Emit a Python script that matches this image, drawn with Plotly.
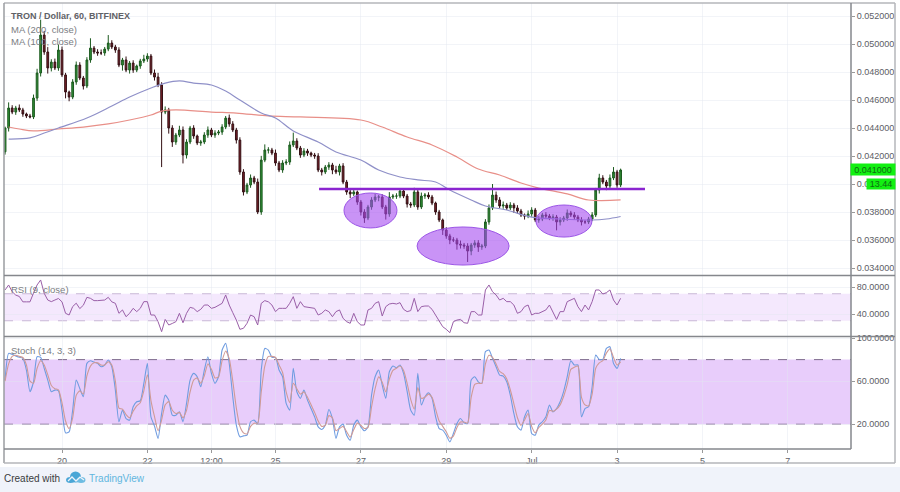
import pandas as pd
import plotly.graph_objects as go

title_text = "TRON / Dollar, 60, BITFINEX"
ma200_label = "MA (200, close)"
ma100_label = "MA (100, close)"
rsi_label = "RSI (9, close)"
stoch_label = "Stoch (14, 3, 3)"

first_open = 0.04230
closes = [
 .04400,.04543,.04514,.04543,.04529,.04500,.04486,.04479,.04614,.04793,
 .05064,.04943,.04829,.04871,.04829,.04957,.04779,.04657,.04621,.04729,
 .04850,.04757,.04700,.04886,.04971,.04943,.04936,.04936,.04964,.05007,
 .04979,.04957,.04850,.04886,.04814,.04864,.04814,.04843,.04879,.04893,
 .04914,.04793,.04764,.04707,.04514,.04529,.04400,.04300,.04350,.04386,
 .04207,.04300,.04400,.04343,.04293,.04300,.04350,.04386,.04350,.04364,
 .04371,.04407,.04471,.04429,.04386,.04314,.04086,.03943,.03993,.04043,
 .04014,.03800,.04171,.04243,.04243,.04221,.04150,.04100,.04150,.04157,
 .04279,.04307,.04257,.04207,.04236,.04221,.04207,.04200,.04100,.04086,
 .04121,.04136,.04100,.04086,.04129,.04014,.03943,.03929,.03943,.03871,
 .03800,.03757,.03836,.03886,.03907,.03907,.03836,.03786,.03907,.03914,
 .03914,.03950,.03914,.03857,.03850,.03943,.03836,.03914,.03921,.03907,
 .03864,.03800,.03743,.03671,.03629,.03600,.03600,.03571,.03564,.03557,
 .03521,.03564,.03579,.03550,.03557,.03729,.03829,.03921,.03886,.03843,
 .03850,.03829,.03850,.03829,.03807,.03779,.03771,.03786,.03814,.03743,
 .03750,.03779,.03771,.03757,.03764,.03729,.03743,.03757,.03793,.03779,
 .03764,.03743,.03729,.03729,.03750,.03779,.03957,.04043,.04014,.03986,
 .04043,.04086,.03993,.04100,
]
up_wick = [
 10,40,20,15,25,15,10,15,25,30,
 110,30,35,20,25,40,25,15,10,20,
 25,20,15,20,70,15,20,25,15,57,
 20,15,20,15,25,15,20,10,15,30,
 20,15,25,30,20,25,15,20,15,30,
 25,20,15,20,10,15,20,25,15,20,
 15,20,15,25,20,15,20,20,15,25,
 15,25,30,40,20,15,25,15,20,20,
 25,60,20,15,20,15,10,15,20,15,
 15,20,15,30,15,20,15,25,20,10,
 15,20,15,20,25,15,20,15,35,15,
 20,15,20,15,15,30,15,25,15,20,
 15,10,15,10,20,15,20,15,25,15,
 20,15,20,20,15,20,25,79,25,20,
 25,15,20,15,20,15,10,25,20,15,
 20,15,20,15,20,15,20,15,25,15,
 20,15,20,15,15,20,15,30,20,15,
 25,35,15,10,
]
down_wick = [
 20,25,15,20,15,20,15,10,15,20,
 25,20,40,25,15,20,15,45,30,15,
 20,15,25,15,20,15,20,15,20,15,
 15,20,15,40,15,25,20,15,20,15,
 20,15,25,15,393,15,40,35,20,15,
 60,25,15,20,15,20,15,20,15,20,
 15,20,15,20,15,25,20,25,15,20,
 15,15,20,15,25,15,20,15,20,15,
 20,15,15,20,15,20,15,20,15,25,
 15,20,30,15,25,15,20,30,15,20,
 25,35,15,20,15,30,15,40,20,15,
 20,15,15,25,20,15,20,15,20,15,
 15,20,15,35,20,30,15,40,25,20,
 78,30,20,35,20,15,20,15,20,15,
 20,15,15,35,20,15,25,15,20,15,
 20,15,20,15,20,60,25,15,20,15,
 20,15,25,15,15,15,15,25,15,30,
 15,15,20,15,
]
ma100_bar = [1,7,11,15,23,30,35,41,45,49,53,58,62,66,72,76,81,88,93,100,105,111,116,121,125,131,135,141,148,156,165,169,173]
ma100_val = [.04321,.04329,.04364,.04400,.04471,.04557,.04621,.04686,.04721,.04736,.04721,.04707,.04664,.04600,.04507,.04471,.04379,.04300,.04229,.04171,.04100,.04050,.04029,.04014,.03957,.03886,.03843,.03814,.03764,.03750,.03743,.03750,.03768]
ma200_bar = [1,4,8,15,22,29,35,41,44,48,58,65,74,83,100,106,113,120,127,133,139,145,150,158,164,173]
ma200_val = [.04407,.04393,.04379,.04393,.04407,.04429,.04457,.04493,.04521,.04529,.04514,.04507,.04486,.04479,.04457,.04407,.04336,.04279,.04193,.04107,.04064,.04007,.03971,.03929,.03886,.03886]
rsi = [
 75.6,83,73,68,66,58,58,58,71,83,
 90.4,70.6,60.7,58.3,60.7,63,58,41,38.5,51,
 56,48,53,64.7,63.2,59.8,59.8,60.7,60.7,64.7,
 58,55.8,41,46,36,41,48.4,43.5,48.4,58.3,
 58.3,38.5,38.5,28.6,13.8,32,23.7,26,28.6,41,
 27,41,49.9,48.4,43.5,46.9,53.3,53.3,48.4,49.9,
 53.3,55.8,68.2,53.3,42,31,17.3,18.8,26.2,38.5,
 36,23.7,55.8,59.8,58,53.3,43.5,48.4,48.4,48.4,
 55.8,65.7,48.4,58.3,50.9,49.9,48.4,48.4,38.5,41,
 46,43.5,36,43.5,46,33.6,28.6,26.2,41,28.6,
 23.7,23.7,46,48.4,55.8,58.3,37,50.9,54.8,55.8,
 54.8,56.8,46.9,43.5,45,63.2,43.5,50.9,51.8,51.8,
 46.9,38.5,28.6,21.2,17.3,12.3,28.6,31,32,27.1,
 26.2,43.5,43.5,38.5,38.5,75.6,83,73,68.2,60.7,
 63.2,58.3,58.3,53.3,41,43.5,50.9,53.3,38.5,41,
 41,43.5,46,53.3,43.5,32,43.5,43.5,58.3,60.7,
 63.2,50.9,43.5,53.3,46,58.3,75.6,75.6,69.6,71.6,
 75.6,60.7,53.3,63.2,
]
stoch_k = [
 61,85.8,84.9,83.3,82.1,81.2,70.3,50.2,59.4,82.7,
 82.1,71.9,61,50.2,51.7,51.1,33.1,12,12.9,33.1,
 61,53.2,45.5,76.5,79,77.7,76.5,73.4,75,79.6,
 73.4,51.7,22.3,33.1,25.3,23.8,36.2,40.9,41.8,57.9,
 76.5,26.9,18.2,6.8,30,47,42.4,28.4,28.4,31.5,
 22.3,39.3,61,67.2,64.1,54.8,70.3,82.7,67.2,57.9,
 64.1,88.9,95.1,76.5,45.5,19.2,8.3,9.2,9.9,22.3,
 23.8,20.7,70.3,90.4,88.9,82.1,82.1,70.3,64.1,39.3,
 33.1,71.9,50.2,44,51.7,42.4,34.6,26.9,17.6,15.1,
 19.2,33.7,25.3,6.8,17.6,20.1,9.8,5.2,19.2,23.8,
 17.6,13.9,17.6,47,64.1,70.3,56.3,44,68.7,74,
 72.5,75,67.2,50.6,33.1,28.4,67.2,37.8,45.5,49.2,
 44,26.9,16,14.5,9.8,3.6,11.4,20.7,25.3,21.3,
 20.7,61,64.1,59.4,57.9,87.4,88.9,81.2,73.4,65.6,
 64.7,59.4,47,30,17.6,14.5,26.9,33.1,11.4,9.8,
 19.2,22.3,26.9,37.8,31.5,34.6,40.9,50.6,64.1,79,
 75,75,26.9,34.6,36.2,54.8,84.2,80.2,80.2,90.4,
 92,76.5,71.9,81.2,
]
stoch_d = [
 60,76,83,84,83,82,75,60,58,72,
 79,75,66,56,53,52,40,23,16,26,
 47,51,48,65,74,77,77,75,75,78,
 75,60,35,34,29,26,32,37,40,51,
 66,42,27,14,24,38,41,33,30,31,
 26,33,50,61,63,58,65,76,71,63,
 64,79,88,81,60,35,18,12,11,18,
 21,21,50,74,83,83,82,75,68,50,
 40,58,53,48,50,45,38,31,23,18,
 19,28,26,14,16,18,13,8,15,21,
 19,16,17,36,53,64,59,50,62,70,
 72,74,70,58,43,34,54,44,45,48,
 45,34,23,18,13,7,9,17,22,22,
 21,45,57,58,58,76,84,82,76,69,
 67,62,52,39,26,19,24,30,18,12,
 17,20,24,33,32,34,38,46,57,71,
 73,74,45,38,37,48,72,77,79,86,
 90,82,75,78,
]
price_ticks = [.034,.036,.038,.040,.042,.044,.046,.048,.050,.052]
rsi_ticks = [40,80]
stoch_ticks = [20,60,100]
time_tick_dates = ["2018-06-20","2018-06-22","2018-06-23 12:00","2018-06-25","2018-06-27","2018-06-29","2018-07-01","2018-07-03","2018-07-05","2018-07-07"]
time_tick_text = ["20","22","12:00","25","27","29","Jul","3","5","7"]
last_price = "0.041000"
countdown = "13.44"
neckline_price = 0.03964
neckline_start, neckline_end = "2018-06-26 00:30", "2018-07-03 15:42"
blobs = [
 ("2018-06-26 14:30","2018-06-27 20:18",.03686,.03936),
 ("2018-06-28 07:36","2018-06-30 11:18",.03421,.03693),
 ("2018-07-01 02:24","2018-07-02 09:54",.03621,.03850),
]

times = pd.date_range("2018-06-18 16:00", periods=len(closes), freq="2h")
opens = [first_open] + closes[:-1]
highs = [max(o, c) + u * 1e-5 for o, c, u in zip(opens, closes, up_wick)]
lows = [min(o, c) - d * 1e-5 for o, c, d in zip(opens, closes, down_wick)]

W, H = 900, 492
X = lambda px: px / W
Y = lambda py: 1 - py / H
TICK = "#5d6066"
GRID = "rgba(226,230,240,0.45)"
FONT = "Liberation Sans"

fig = go.Figure()
fig.add_trace(go.Scatter(x=times[ma200_bar], y=ma200_val, mode="lines", line=dict(color="#e88f88", width=1.2, shape="spline"), yaxis="y"))
fig.add_trace(go.Scatter(x=times[ma100_bar], y=ma100_val, mode="lines", line=dict(color="#8f90c8", width=1.2, shape="spline"), yaxis="y"))
fig.add_trace(go.Candlestick(x=times, open=opens, high=highs, low=lows, close=closes, yaxis="y", whiskerwidth=0,
    increasing=dict(line=dict(color="#1c5a1f", width=1), fillcolor="#2f8f35"),
    decreasing=dict(line=dict(color="#331014", width=1), fillcolor="#7a1f28")))
fig.add_trace(go.Scatter(x=times, y=rsi, mode="lines", line=dict(color="#9a5fa8", width=1), yaxis="y2"))
fig.add_trace(go.Scatter(x=times, y=stoch_k, mode="lines", line=dict(color="#6f9ce0", width=1.1, shape="spline", smoothing=0.6), yaxis="y3"))
fig.add_trace(go.Scatter(x=times, y=stoch_d, mode="lines", line=dict(color="#cf9a96", width=1.1, shape="spline", smoothing=0.6), yaxis="y3"))

shapes = []
def band(yref, lo, hi, fill, dash):
    shapes.append(dict(type="rect", xref="x domain", yref=yref, x0=0, x1=1, y0=lo, y1=hi, fillcolor=fill, line_width=0, layer="below"))
    for v in (lo, hi):
        shapes.append(dict(type="line", xref="x domain", yref=yref, x0=0, x1=1, y0=v, y1=v, line=dict(color=dash, width=1, dash="dash"), layer="below"))
band("y2", 30, 70, "#f4e8fd", "#c9b7d6")
band("y3", 20, 80, "#e8cdfb", "#7d6a8c")

for x0, x1, lo, hi in blobs:
    shapes.append(dict(type="circle", xref="x", yref="y", x0=x0, x1=x1, y0=lo, y1=hi,
                       fillcolor="rgba(165,75,240,0.6)", line=dict(color="#9b55e6", width=1), layer="above"))
shapes.append(dict(type="line", xref="x", yref="y", x0=neckline_start, x1=neckline_end, y0=neckline_price, y1=neckline_price,
                   line=dict(color="#8a25d0", width=2.5), layer="above"))

def pline(x0, y0, x1, y1, color="#9a9ca0", width=1.5):
    shapes.append(dict(type="line", xref="paper", yref="paper", x0=X(x0), x1=X(x1), y0=Y(y0), y1=Y(y1),
                       line=dict(color=color, width=width), layer="above"))
pline(4, 3, 895, 3, "#b4b6ba")
pline(4, 3, 4, 463)
pline(895, 3, 895, 463, "#b4b6ba")
pline(4, 463, 895, 463, "#b4b6ba")
pline(4, 275.5, 895, 275.5, "#85878c")
pline(4, 336.5, 895, 336.5, "#85878c")
pline(4, 449, 851, 449, "#85878c")
pline(851, 3, 851, 449, "#85878c")

shapes.append(dict(type="rect", xref="paper", yref="paper", x0=0, x1=1, y0=0, y1=Y(467), fillcolor="#f0f3fa", line_width=0, layer="below"))
for cx, cy, rx, ry, col in [(75.5, 477, 5.5, 5.5, "#4aa6d6"), (70.5, 480, 4.5, 3, "#4aa6d6"), (81, 480, 4.5, 3, "#6dbce2")]:
    shapes.append(dict(type="circle", xref="paper", yref="paper", x0=X(cx-rx), x1=X(cx+rx), y0=Y(cy+ry), y1=Y(cy-ry), fillcolor=col, line_width=0, layer="above"))
shapes.append(dict(type="path", xref="paper", yref="paper", layer="above", line=dict(color="#f0f3fa", width=1.3),
    path=f"M{X(68)},{Y(481)} L{X(72)},{Y(477)} L{X(76)},{Y(481)} L{X(80)},{Y(477)} L{X(84)},{Y(480)}"))

def note(text, px, py, size=10, color="#7b7d82", bold=False):
    return dict(text=f"<b>{text}</b>" if bold else text, xref="paper", yref="paper", x=X(px), y=Y(py), xanchor="left", yanchor="middle",
                showarrow=False, font=dict(size=size, color=color, family=FONT))
annotations = [
    note(title_text, 9, 16, 9, "#5f6166", True),
    note(ma200_label, 9, 29, 9.5),
    note(ma100_label, 9, 42, 9.5),
    note(rsi_label, 9, 289, 9.5),
    note(stoch_label, 9, 350, 9.5),
    note("Created with", 2, 478, 10, "#3a3c40"),
    note("TradingView", 87, 478, 10, "#62b6de"),
    dict(text=last_price, xref="paper", yref="y", x=X(873), y=0.04103, xanchor="center", yanchor="middle", showarrow=False,
         width=44, height=11, bgcolor="#12f012", borderpad=0, font=dict(size=9, color="#0e6a12", family=FONT)),
    dict(text=countdown, xref="paper", yref="y", x=X(881), y=0.0400, xanchor="center", yanchor="middle", showarrow=False,
         width=28, height=10, bgcolor="#12f012", borderpad=0, font=dict(size=9, color="#0e6a12", family=FONT)),
]

def yaxis(domain, rng, ticks, fmt):
    return dict(domain=domain, range=rng, side="right", anchor="x", tickvals=ticks, tickformat=fmt, ticks="outside", ticklen=3,
                tickcolor="#999", tickfont=dict(size=9, color=TICK, family=FONT), gridcolor=GRID, zeroline=False, showline=False)

fig.update_layout(
    width=W, height=H, margin=dict(l=0, r=0, t=0, b=0, autoexpand=False), showlegend=False, hovermode=False,
    paper_bgcolor="white", plot_bgcolor="white", shapes=shapes, annotations=annotations,
    xaxis=dict(domain=[X(4), X(851)], range=["2018-06-18 15:24", "2018-07-08 11:30"], anchor="y3", type="date",
               tickvals=time_tick_dates, ticktext=time_tick_text, ticks="outside", ticklen=3, tickcolor="#999",
               tickfont=dict(size=9, color=TICK, family=FONT), gridcolor=GRID, zeroline=False, showline=False,
               rangeslider=dict(visible=False)),
    yaxis=yaxis([Y(275), Y(3)], [0.03350, 0.05293], price_ticks, ".6f"),
    yaxis2=yaxis([Y(336), Y(276)], [7.4, 96.3], rsi_ticks, ".4f"),
    yaxis3=yaxis([Y(449), Y(337)], [-3, 101], stoch_ticks, ".4f"),
)
fig.write_html("out.html", config=dict(displayModeBar=False),
               post_script="document.body.style.margin='0';document.body.style.overflow='hidden';")
